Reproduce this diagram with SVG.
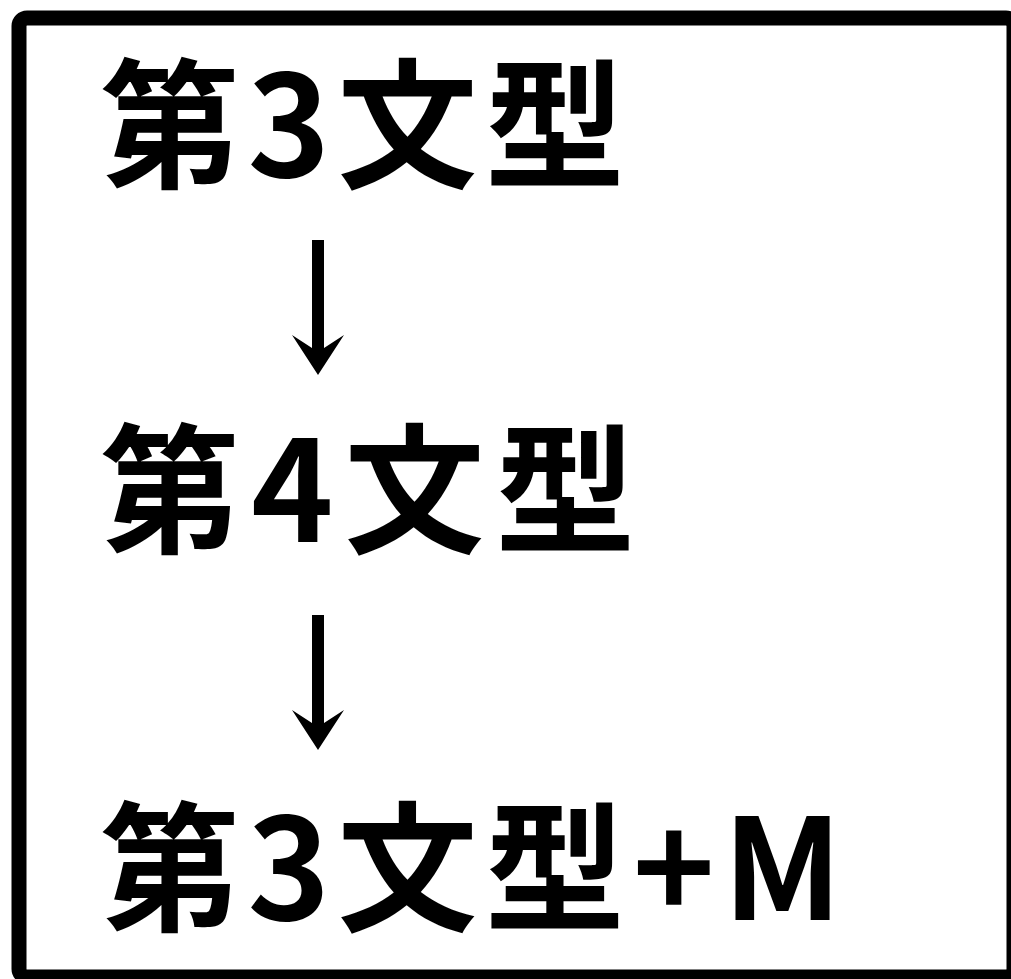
<svg xmlns="http://www.w3.org/2000/svg" width="1011" height="979" viewBox="0 0 1011 979">
  <style>
    .lbl { font-family: "Noto Sans CJK JP", "Liberation Sans", sans-serif; font-weight: 700; font-size: 140px; fill: #000; letter-spacing: 7.5px; }
    .frame { fill: #fff; stroke: #000; stroke-width: 15; }
    .arrow { fill: #000; }
  </style>
  <defs>
    <path id="arrowShape" d="M312,0 H324 V108 L344,95 L318,135 L292,95 L312,108 Z"/>
  </defs>
  <rect width="1011" height="979" fill="#fff"/>
  <rect class="frame" x="19" y="18" width="995" height="959" rx="8"/>
  <g id="node1">
    <text class="lbl" x="100" y="177">第3文型</text>
  </g>
  <g id="node2">
    <text class="lbl" x="100" y="542" style="letter-spacing:11px">第4文型</text>
  </g>
  <g id="node3">
    <text class="lbl" x="100" y="920">第3文型+M</text>
  </g>
  <g id="connectors">
    <use href="#arrowShape" class="arrow" transform="translate(0,240)"/>
    <use href="#arrowShape" class="arrow" transform="translate(0,615)"/>
  </g>
</svg>
